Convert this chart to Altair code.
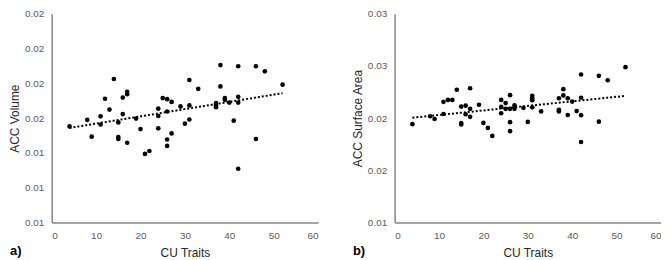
import altair as alt
import pandas as pd

# ---- data ----
left_x = [4, 14, 12, 17, 17, 16, 13, 8, 11, 11, 16, 15, 19, 9, 15, 15, 17, 20, 21, 22,
          24, 24, 24, 25, 26, 27, 26, 27, 26, 26, 29, 30, 38, 42, 46, 48, 31, 33, 38, 52,
          31, 37, 37, 37, 39, 39, 40, 42, 42, 31, 41, 46, 42]
left_y = [0.01552, 0.01825, 0.01711, 0.01751, 0.01737, 0.01718, 0.01649, 0.01590, 0.01610,
          0.01563, 0.01623, 0.01575, 0.01597, 0.01493, 0.01491, 0.01480, 0.01458, 0.01537,
          0.01394, 0.01411, 0.01654, 0.01612, 0.01541, 0.01715, 0.01709, 0.01693, 0.01638,
          0.01512, 0.01477, 0.01440, 0.01667, 0.01568, 0.01905, 0.01898, 0.01898, 0.01869,
          0.01819, 0.01768, 0.01782, 0.01792, 0.01673, 0.01687, 0.01674, 0.01663, 0.01715,
          0.01705, 0.01689, 0.01722, 0.01689, 0.01592, 0.01585, 0.01480, 0.01309]

right_x = [4, 8, 9, 11, 11, 12, 13, 14, 17, 15, 16, 15, 15, 16, 17, 17, 19, 20, 21, 22,
           24, 25, 26, 24, 25, 26, 27, 27, 24, 26, 26, 29, 30, 31, 31, 31, 31, 33, 37,
           38, 38, 39, 40, 37, 37, 39, 41, 42, 42, 42, 42, 46, 48, 46, 52]
right_y = [0.01942, 0.02018, 0.01991, 0.02039, 0.02156, 0.02174, 0.02174, 0.02272, 0.02286,
           0.02110, 0.02119, 0.01952, 0.01939, 0.02037, 0.02089, 0.02012, 0.02128, 0.01954,
           0.01906, 0.01829, 0.02174, 0.02144, 0.02220, 0.02107, 0.02089, 0.02089, 0.02089,
           0.02122, 0.02046, 0.01961, 0.01875, 0.02098, 0.01963, 0.02213, 0.02190, 0.02171,
           0.02103, 0.02064, 0.02190, 0.02277, 0.02217, 0.02190, 0.02158, 0.02080, 0.02064,
           0.02030, 0.02067, 0.02418, 0.02195, 0.02028, 0.01771, 0.02405, 0.02363, 0.01966,
           0.02488]

x_ticks = [0, 10, 20, 30, 40, 50, 60]
left_y_ticks = [0.010, 0.012, 0.014, 0.016, 0.018, 0.020, 0.022]
right_y_ticks = [0.010, 0.015, 0.020, 0.025, 0.030]
panel_labels = ["a)", "b)"]
x_title = "CU Traits"
y_titles = ["ACC Volume", "ACC Surface Area"]

W, H = 268, 210
FONT = "Liberation Sans"


def panel(xs, ys, yticks, ytitle, label):
    df = pd.DataFrame({"cu": xs, "acc": ys})
    base = alt.Chart(df)
    xenc = alt.X("cu:Q",
                 scale=alt.Scale(domain=[x_ticks[0], x_ticks[-1]], nice=False),
                 axis=alt.Axis(values=x_ticks, tickCount=len(x_ticks), title=x_title,
                               format="d", labelOverlap=False))
    yenc = alt.Y("acc:Q",
                 scale=alt.Scale(domain=[yticks[0], yticks[-1]], nice=False, zero=False),
                 axis=alt.Axis(values=yticks, tickCount=len(yticks), title=ytitle,
                               labelOverlap=False,
                               labelExpr="format(datum.value + 1e-9, '.2f')"))
    pts = base.mark_circle(size=22, color="black", opacity=1).encode(x=xenc, y=yenc)
    trend = (base.transform_regression("cu", "acc")
             .mark_line(color="black", strokeDash=[2, 2], strokeWidth=2)
             .encode(x="cu:Q", y="acc:Q"))
    lab = (alt.Chart(pd.DataFrame({"t": [label]}))
           .mark_text(align="left", baseline="middle", fontWeight="bold",
                      fontSize=13, font=FONT, color="black")
           .encode(text="t:N", x=alt.value(-42), y=alt.value(H + 29)))
    return alt.layer(pts, trend, lab).properties(width=W, height=H)


left = panel(left_x, left_y, left_y_ticks, y_titles[0], panel_labels[0])
right = panel(right_x, right_y, right_y_ticks, y_titles[1], panel_labels[1])

chart = (alt.hconcat(left, right, spacing=33)
         .configure(padding={"left": 0, "top": 0, "right": 0, "bottom": 0})
         .configure_view(stroke=None)
         .configure_axis(grid=False, ticks=False, domainColor="#868686", domainWidth=1.5,
                         labelFont=FONT, labelFontSize=10, labelColor="#595959",
                         titleFont=FONT, titleFontSize=12, titleColor="#262626",
                         titleFontWeight="normal", labelPadding=8)
         .configure_axisX(titlePadding=7)
         .configure_axisY(titlePadding=3))

chart.save("out.html", embed_options={"renderer": "svg", "actions": False})
